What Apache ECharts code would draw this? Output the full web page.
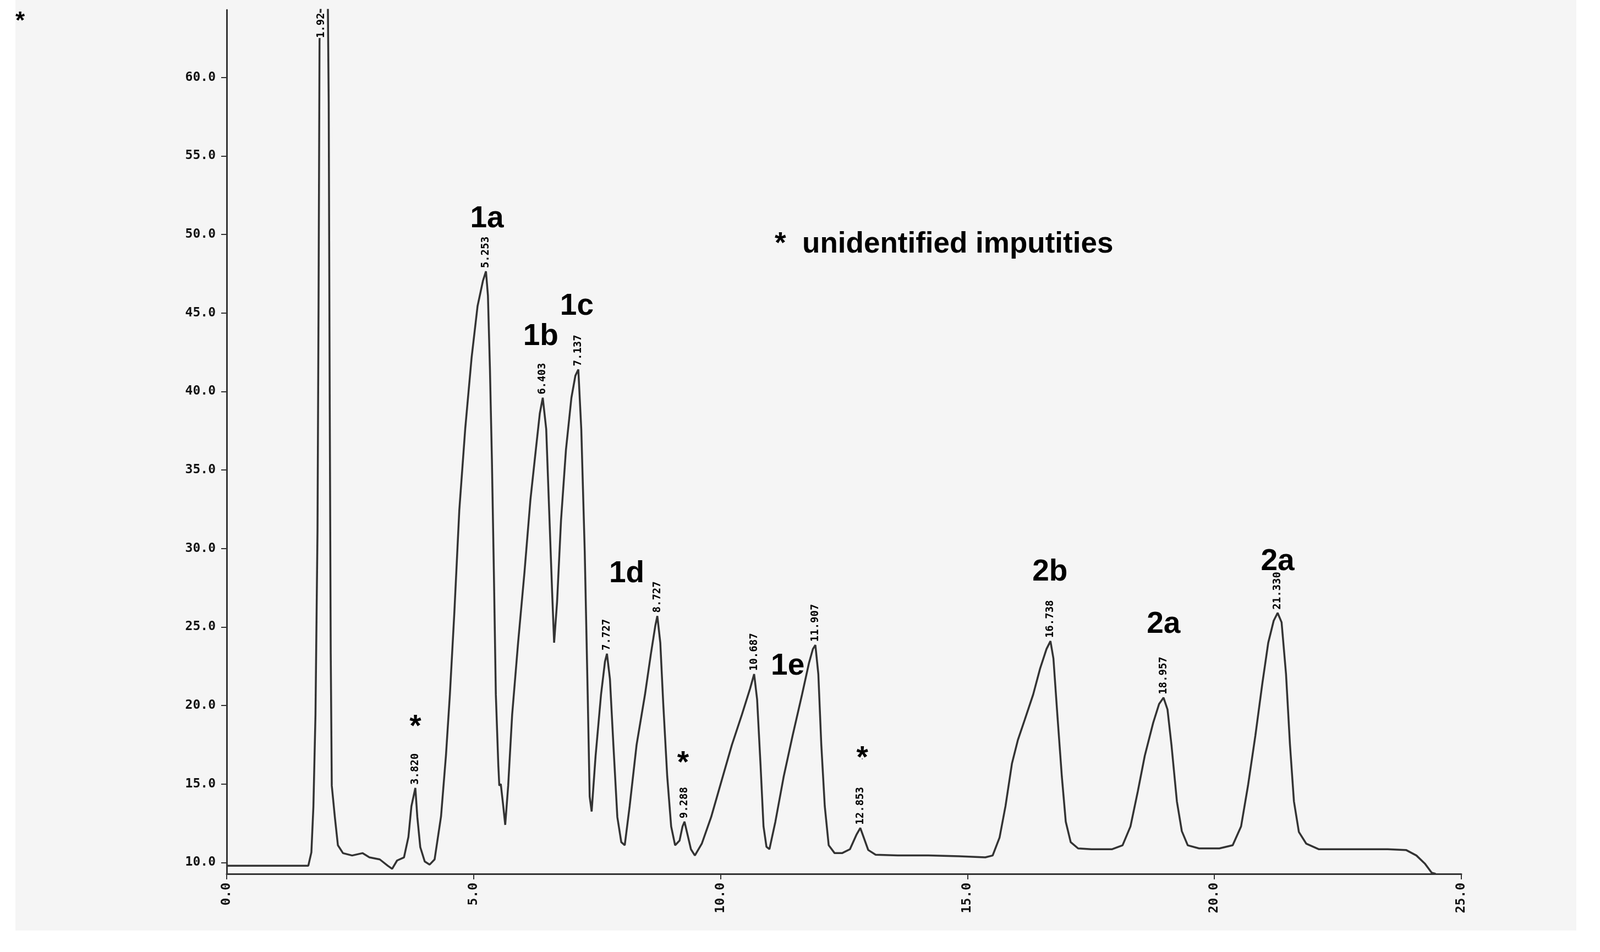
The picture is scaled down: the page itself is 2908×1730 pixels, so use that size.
<!DOCTYPE html>
<html>
<head>
<meta charset="utf-8">
<script src="https://cdn.jsdelivr.net/npm/echarts@6/dist/echarts.min.js"></script>
<style>
  html, body { margin: 0; padding: 0; background: #ffffff; }
  #scan { position: absolute; left: 28px; top: 0; width: 2837px; height: 1691px; background: #f5f5f5; }
  #chart { position: absolute; left: 0; top: 0; width: 2908px; height: 1730px; }
</style>
</head>
<body>
<div id="scan"></div>
<div id="chart"></div>
<script>
// ---- data ----
const times = [0, 1.653, 1.715, 1.756, 1.798, 1.839, 1.86, 1.88, 1.92, 2.045, 2.066, 2.087, 2.107, 2.128, 2.19, 2.252, 2.355, 2.54, 2.75, 2.89, 3.10, 3.26, 3.35, 3.45, 3.59, 3.68, 3.74, 3.82, 3.86, 3.92, 4.01, 4.11, 4.21,
  4.34, 4.44, 4.52, 4.61, 4.71, 4.83, 4.96, 5.08, 5.19, 5.25, 5.29, 5.33, 5.37, 5.41, 5.45, 5.50, 5.52, 5.55, 5.60, 5.64,
  5.70, 5.78, 5.90, 6.03, 6.15, 6.26, 6.34, 6.40, 6.47, 6.53, 6.59, 6.63,
  6.69, 6.77, 6.87, 6.98, 7.06, 7.12, 7.18, 7.25, 7.31, 7.35, 7.39,
  7.47, 7.58, 7.66, 7.70, 7.76, 7.83, 7.91, 7.99, 8.06,
  8.16, 8.30, 8.47, 8.59, 8.68, 8.72, 8.78, 8.84, 8.92, 9.00, 9.08,
  9.17, 9.23, 9.27, 9.33, 9.40, 9.48,
  9.62, 9.81, 10.02, 10.23, 10.43, 10.60, 10.68, 10.74, 10.81, 10.87, 10.93, 10.99,
  11.11, 11.28, 11.46, 11.65, 11.79, 11.87, 11.92, 11.98, 12.04, 12.11, 12.19, 12.31, 12.46,
  12.62, 12.75, 12.83, 12.91, 12.99, 13.14, 13.59, 14.21, 14.83, 15.36, 15.51,
  15.65, 15.77, 15.90, 16.02, 16.16, 16.33, 16.47, 16.60, 16.68, 16.74, 16.82, 16.91, 16.99, 17.09, 17.24, 17.51, 17.93,
  18.14, 18.30, 18.45, 18.59, 18.76, 18.88, 18.97, 19.05, 19.13, 19.24, 19.34, 19.46, 19.69, 20.10,
  20.37, 20.54, 20.68, 20.83, 20.97, 21.09, 21.20, 21.28, 21.36, 21.45, 21.53, 21.61, 21.71, 21.86, 22.11, 22.69, 23.51,
  23.88, 24.09, 24.26, 24.40, 24.48];
const signal = [9.80, 9.80, 10.65, 13.58, 19.43, 31.13, 45.4, 62.3, 66, 66, 58.4, 38.9, 23.3, 14.9, 12.9, 11.1, 10.6, 10.45, 10.6, 10.33, 10.2, 9.8, 9.6, 10.13, 10.33, 11.63, 13.58, 14.75, 12.9, 10.98, 10.07, 9.87, 10.2,
  12.93, 16.83, 20.73, 25.93, 32.43, 37.63, 42.18, 45.44, 47.06, 47.65, 46.1, 41.5, 35.7, 28.5, 20.7, 16.2, 14.9, 15.0, 13.6, 12.4,
  14.9, 19.4, 23.98, 28.5, 33.1, 36.3, 38.6, 39.6, 37.6, 32.4, 27.2, 24.0,
  26.6, 31.8, 36.3, 39.6, 41.0, 41.4, 37.6, 29.8, 20.7, 14.2, 13.25,
  16.8, 20.7, 22.8, 23.3, 21.7, 17.5, 12.9, 11.3, 11.1,
  13.6, 17.5, 20.7, 23.3, 25.1, 25.7, 24.0, 20.1, 15.5, 12.3, 11.1,
  11.4, 12.3, 12.6, 11.8, 10.85, 10.45,
  11.2, 12.9, 15.2, 17.5, 19.4, 21.1, 22.0, 20.4, 16.2, 12.3, 11.0, 10.85,
  12.6, 15.5, 18.1, 20.7, 22.7, 23.6, 23.85, 22.0, 17.5, 13.6, 11.1, 10.6, 10.6,
  10.85, 11.76, 12.2, 11.5, 10.8, 10.5, 10.45, 10.45, 10.4, 10.33, 10.45,
  11.6, 13.6, 16.3, 17.8, 19.1, 20.7, 22.35, 23.6, 24.1, 23.0, 19.4, 15.5, 12.6, 11.3, 10.9, 10.85, 10.85,
  11.1, 12.3, 14.55, 16.8, 18.9, 20.1, 20.5, 19.75, 17.5, 13.9, 12.0, 11.1, 10.9, 10.9,
  11.1, 12.3, 14.9, 18.1, 21.4, 24.0, 25.4, 25.9, 25.3, 22.0, 17.5, 13.9, 11.95, 11.2, 10.85, 10.85, 10.85,
  10.8, 10.45, 9.94, 9.35, 9.28];

// retention-time labels printed at the peak apexes
const rtTimes  = [1.92, 3.82, 5.25, 6.40, 7.12, 7.70, 8.72, 9.27, 10.68, 11.92, 12.83, 16.68, 18.97, 21.28];
const rtApex   = [62.3, 14.75, 47.65, 39.6, 41.4, 23.3, 25.7, 12.6, 22.0, 23.85, 12.2, 24.1, 20.5, 25.9];
const rtText   = ['1.92', '3.820', '5.253', '6.403', '7.137', '7.727', '8.727', '9.288', '10.687', '11.907', '12.853', '16.738', '18.957', '21.330'];

// compound names and impurity marks
const nameText  = ['1a', '1b', '1c', '1d', '1e', '2b', '2a', '2a', '*', '*', '*'];
const nameTimes = [5.27, 6.36, 7.09, 8.10, 11.36, 16.67, 18.97, 21.28, 3.82, 9.24, 12.87];
const nameVals  = [51.0, 43.5, 45.4, 28.4, 22.5, 28.5, 25.15, 29.15, 18.6, 16.3, 16.6];

// axis ticks
const xTicks = [0, 5, 10, 15, 20, 25];
const yTicks = [10, 15, 20, 25, 30, 35, 40, 45, 50, 55, 60];

const chart = echarts.init(document.getElementById('chart'), null, { renderer: 'canvas' });

const monoFont = '"DejaVu Sans Mono", monospace';
const sansFont = '"Liberation Sans", Arial, sans-serif';

chart.setOption({
  animation: false,
  backgroundColor: 'transparent',
  grid: { left: 412, right: 252, top: 18, bottom: 142, containLabel: false },
  xAxis: {
    type: 'value', min: xTicks[0], max: xTicks[xTicks.length - 1], interval: 5,
    axisLine: { show: true, onZero: false, lineStyle: { color: '#333', width: 3 } },
    axisTick: { show: true, length: 10, lineStyle: { color: '#333', width: 2 } },
    splitLine: { show: false },
    axisLabel: {
      show: true, rotate: 90, margin: 16, color: '#111',
      fontFamily: monoFont, fontWeight: 'bold', fontSize: 23,
      formatter: v => v.toFixed(1)
    }
  },
  yAxis: {
    type: 'value', min: 9.28, max: 64.3,
    axisLine: { show: true, onZero: false, lineStyle: { color: '#333', width: 3 } },
    axisTick: { show: true, length: 10, customValues: yTicks, lineStyle: { color: '#333', width: 2 } },
    splitLine: { show: false },
    axisLabel: {
      show: true, margin: 20, color: '#111', customValues: yTicks,
      fontFamily: monoFont, fontWeight: 'bold', fontSize: 23,
      formatter: v => v.toFixed(1)
    }
  },
  series: [
    {
      type: 'line', name: 'signal',
      data: times.map((t, i) => [t, signal[i]]),
      showSymbol: false, symbol: 'none', smooth: false, clip: true,
      lineStyle: { color: '#333333', width: 3.5 }
    },
    {
      type: 'scatter', name: 'rt',
      data: rtTimes.map((t, i) => [t, rtApex[i], rtText[i]]),
      symbolSize: 0, clip: false,
      itemStyle: { opacity: 1 },
      label: {
        show: true, position: 'top', distance: 6, rotate: 90,
        align: 'left', verticalAlign: 'middle', opacity: 1,
        color: '#000', fontFamily: monoFont, fontWeight: 'bold', fontSize: 19,
        backgroundColor: '#f5f5f5',
        formatter: p => p.data[2]
      },
      z: 5
    },
    {
      type: 'scatter', name: 'names',
      data: nameTimes.map((t, i) => [t, nameVals[i], nameText[i]]),
      symbolSize: 0, clip: false,
      itemStyle: { opacity: 1 },
      label: {
        show: true, position: 'inside', align: 'center', verticalAlign: 'middle', opacity: 1,
        color: '#000', fontFamily: sansFont, fontWeight: 'bold', fontSize: 55,
        formatter: p => p.data[2]
      },
      z: 6
    }
  ],
  graphic: [
    { type: 'text', left: 28, top: 18, style: { text: '*', fill: '#000', font: 'bold 44px "Liberation Sans", Arial, sans-serif' } },
    { type: 'text', left: 1408, top: 418, style: { text: '*  unidentified imputities', fill: '#000', font: 'bold 53px "Liberation Sans", Arial, sans-serif' } }
  ]
});
</script>
</body>
</html>
